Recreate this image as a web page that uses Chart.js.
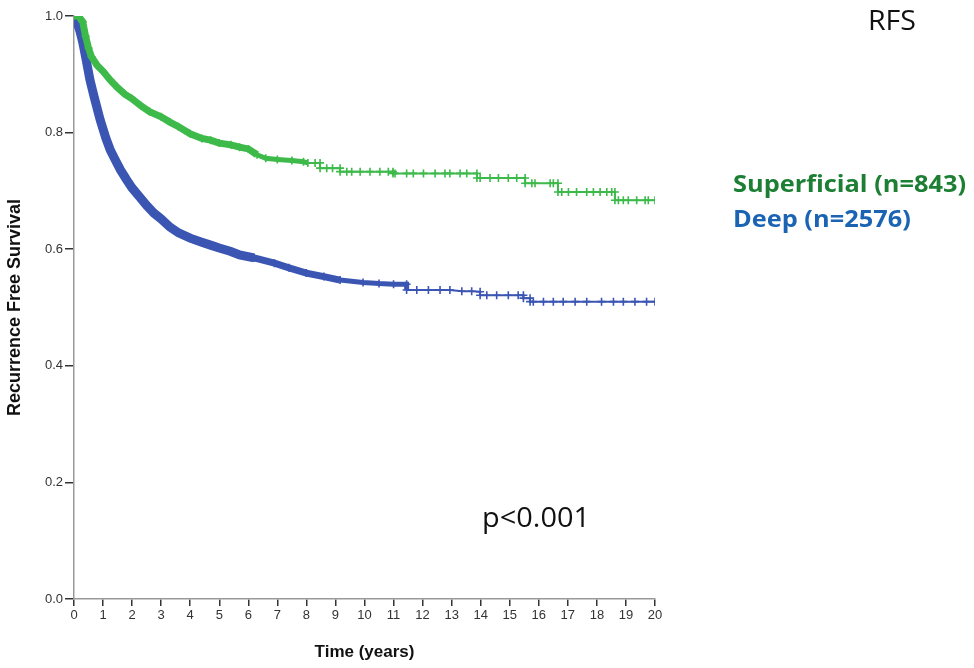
<!DOCTYPE html>
<html>
<head>
<meta charset="utf-8">
<script src="https://cdn.jsdelivr.net/npm/chart.js@4.4.1/dist/chart.umd.min.js"></script>
<style>
  html, body { margin: 0; padding: 0; background: #fff; }
  #wrap { position: relative; width: 974px; height: 668px; }
</style>
</head>
<body>
<div id="wrap"><canvas id="km" width="974" height="668"></canvas></div>
<script>
// Kaplan-Meier estimates (years, survival); a repeated
// time marks a drop, the flat runs carry the censoring ticks
const superficialTimes = [0, 0.15, 0.3, 0.4, 0.5, 0.6, 0.8, 1.0, 1.25, 1.5, 1.75, 2.0, 2.3, 2.6, 3.0, 3.3, 3.6, 4.0, 4.4, 4.7, 5.0, 5.4, 5.7, 6.0, 6.3, 6.6, 7.0, 7.5, 7.9,
  8.05, 8.3, 8.47, 8.47, 8.7, 8.9, 9.16, 9.16, 9.39, 9.56, 9.85, 10.19, 10.53, 10.82, 10.98, 10.98, 11.05, 11.45, 11.68, 12.03, 12.43, 12.77, 12.94, 13.29, 13.52, 13.87,
  13.87, 13.98, 14.32, 14.61, 14.95, 15.24, 15.53, 15.53, 15.76, 15.87, 16.39, 16.5, 16.66, 16.66, 16.79, 17.02, 17.3, 17.65, 17.88, 18.11, 18.34, 18.51, 18.62,
  18.62, 18.74, 18.91, 19.08, 19.37, 19.66, 19.77, 20.0]
const superficialSurv = [1.0, 1.0, 0.99, 0.965, 0.945, 0.93, 0.915, 0.905, 0.89, 0.877, 0.866, 0.858, 0.846, 0.836, 0.827, 0.818, 0.81, 0.798, 0.79, 0.787, 0.782, 0.779, 0.775, 0.772, 0.762, 0.756, 0.754, 0.752, 0.75,
  0.748, 0.748, 0.748, 0.739, 0.739, 0.739, 0.739, 0.733, 0.733, 0.733, 0.733, 0.733, 0.733, 0.733, 0.733, 0.73, 0.73, 0.73, 0.73, 0.73, 0.73, 0.73, 0.73, 0.73, 0.73, 0.73,
  0.722, 0.722, 0.722, 0.722, 0.722, 0.722, 0.722, 0.713, 0.713, 0.713, 0.713, 0.713, 0.713, 0.698, 0.698, 0.698, 0.698, 0.698, 0.698, 0.698, 0.698, 0.698, 0.698,
  0.684, 0.684, 0.684, 0.684, 0.684, 0.684, 0.684, 0.684]

const deepTimes = [0, 0.1, 0.2, 0.3, 0.4, 0.55, 0.7, 0.9, 1.1, 1.25, 1.4, 1.6, 1.8, 2.0, 2.25, 2.5, 2.75, 3.0, 3.3, 3.6, 4.0, 4.4, 4.7, 5.0, 5.4, 5.7, 6.2, 6.9, 7.4, 8.0, 8.6, 9.16, 9.95, 10.5, 11.0, 11.45,
  11.45, 11.8, 12.2, 12.6, 12.94, 13.35, 13.69, 13.98, 13.98, 14.21, 14.55, 14.95, 15.29, 15.47, 15.47, 15.7, 15.7, 15.81, 16.16, 16.5, 16.84, 17.25, 17.65, 18.16, 18.57, 18.91, 19.31, 19.71, 20.0]
const deepSurv = [1.0, 0.99, 0.975, 0.955, 0.93, 0.89, 0.86, 0.822, 0.79, 0.77, 0.755, 0.736, 0.72, 0.705, 0.69, 0.675, 0.662, 0.652, 0.638, 0.628, 0.619, 0.612, 0.607, 0.602, 0.596, 0.59, 0.585, 0.576, 0.568, 0.559, 0.553, 0.547, 0.543, 0.541, 0.54, 0.54,
  0.53, 0.53, 0.53, 0.53, 0.53, 0.528, 0.528, 0.527, 0.521, 0.521, 0.521, 0.521, 0.521, 0.521, 0.516, 0.516, 0.51, 0.51, 0.51, 0.51, 0.51, 0.51, 0.51, 0.51, 0.51, 0.51, 0.51, 0.51, 0.51]

const seriesNames = ['Superficial (n=843)', 'Deep (n=2576)']
const yTicks = [0, 0.2, 0.4, 0.6, 0.8, 1.0]

const toXY = (ts, ss) => ts.map((t, i) => ({ x: t, y: ss[i] }))

// text squeezed/stretched horizontally to the width it has on the slide
function stretchedText(ctx, text, x, y, font, width, align) {
  ctx.font = font
  const k = width / ctx.measureText(text).width
  ctx.save()
  ctx.translate(x, y)
  ctx.scale(k, 1)
  ctx.textAlign = align
  ctx.fillText(text, 0, 0)
  ctx.restore()
}

// free text on the figure (RFS, p value, group labels)
const annotationsPlugin = {
  id: 'kmText',
  afterDraw(chart) {
    const ctx = chart.ctx
    ctx.save()
    ctx.textBaseline = 'alphabetic'
    ctx.fillStyle = '#111'
    stretchedText(ctx, 'RFS', 892, 30, '28px "Open Sans", sans-serif', 48, 'center')
    stretchedText(ctx, 'p<0.001', 536, 527, '27px "Open Sans", sans-serif', 108, 'center')
    ctx.fillStyle = '#1c7f33'
    ctx.font = 'bold 24px "Open Sans", sans-serif'
    const k = 233 / ctx.measureText(seriesNames[0]).width
    stretchedText(ctx, seriesNames[0], 733, 192, ctx.font, 233, 'left')
    ctx.fillStyle = '#1a64b3'
    ctx.font = 'bold 24px "Open Sans", sans-serif'
    stretchedText(ctx, seriesNames[1], 733, 227, ctx.font, ctx.measureText(seriesNames[1]).width * k, 'left')
    ctx.restore()
  },
}

// bands: [upToYear, width] — the censor ticks are so dense early on that the curve reads as a thick band
const kmDataset = (label, data, color, bands) => ({
  label,
  data,
  borderColor: color,
  backgroundColor: color,
  borderWidth: 2,
  pointStyle: 'cross',
  pointRadius: 4,
  pointBorderWidth: 1.6,
  pointBorderColor: color,
  fill: false,
  segment: {
    borderWidth: (c) => {
      const b = bands.find(([upTo]) => c.p1.parsed.x <= upTo)
      return b ? b[1] : 2
    },
  },
})

new Chart(document.getElementById('km').getContext('2d'), {
  type: 'line',
  data: {
    datasets: [
      kmDataset(seriesNames[0], toXY(superficialTimes, superficialSurv), '#3dba4a', [[6.3, 7], [8.1, 5]]),
      kmDataset(seriesNames[1], toXY(deepTimes, deepSurv), '#3b55b3', [[6.2, 9], [9.2, 7], [11.45, 5]]),
    ],
  },
  options: {
    responsive: false,
    animation: false,
    layout: { padding: { top: 16, right: 319, bottom: 0, left: 0 } },
    plugins: {
      legend: { display: false },
      tooltip: { enabled: false },
    },
    scales: {
      x: {
        type: 'linear',
        min: 0,
        max: 20,
        afterFit: (s) => { s.height = 69 },
        border: { color: '#999', width: 1.5 },
        grid: { drawOnChartArea: false, drawTicks: true, tickLength: 7, color: '#333', lineWidth: 1.5 },
        ticks: { stepSize: 1, color: '#333', padding: 2, font: { family: 'Arial', size: 13 } },
        title: {
          display: true,
          text: 'Time (years)',
          color: '#111',
          font: { family: 'Arial', size: 17, weight: 'bold' },
          padding: { top: 0, bottom: 5 },
        },
      },
      y: {
        min: 0,
        max: 1,
        afterFit: (s) => { s.width = 74 },
        afterBuildTicks: (s) => { s.ticks = yTicks.map((v) => ({ value: v })) },
        border: { color: '#999', width: 1.5 },
        grid: { drawOnChartArea: false, drawTicks: true, tickLength: 9, color: '#333', lineWidth: 1.5 },
        ticks: {
          color: '#333',
          padding: 2,
          font: { family: 'Arial', size: 13 },
          callback: (v) => Number(v).toFixed(1),
        },
        title: {
          display: true,
          text: 'Recurrence Free Survival',
          color: '#111',
          font: { family: 'Arial', size: 18, weight: 'bold' },
          padding: { top: 4, bottom: 0 },
        },
      },
    },
  },
  plugins: [annotationsPlugin],
})
</script>
</body>
</html>
